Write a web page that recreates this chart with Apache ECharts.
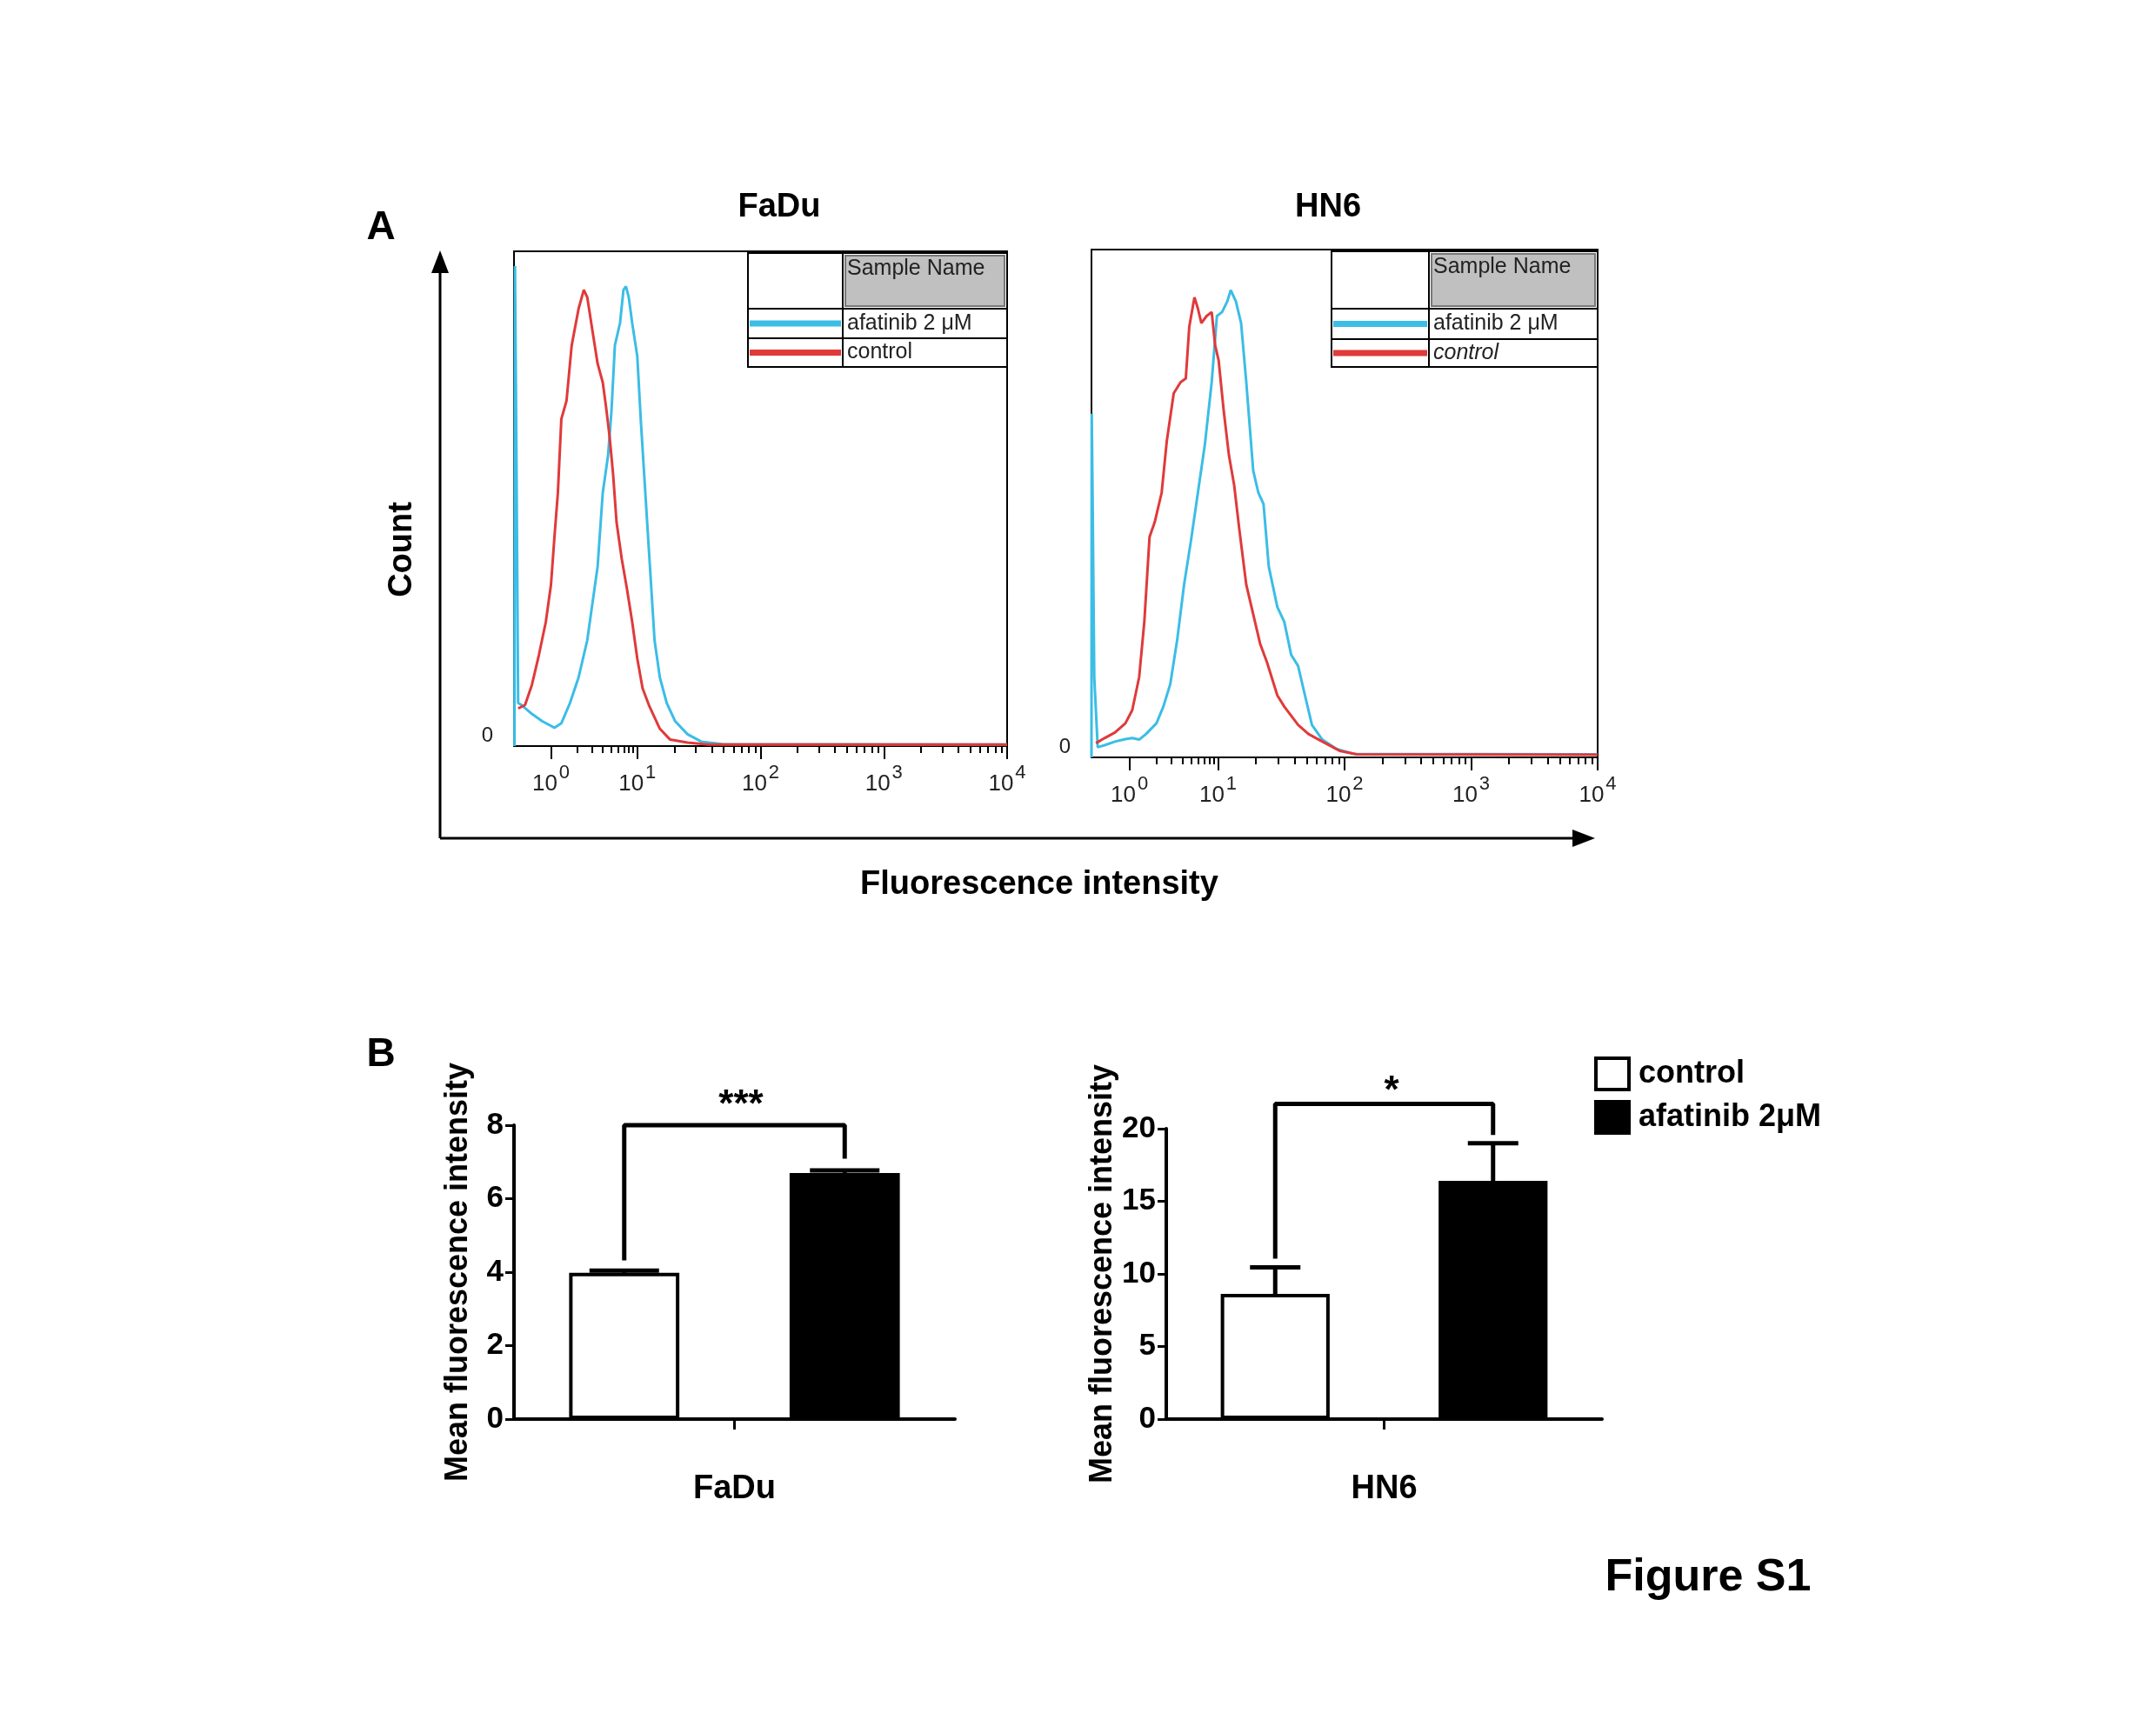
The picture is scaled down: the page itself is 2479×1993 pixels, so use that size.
<!DOCTYPE html>
<html>
<head>
<meta charset="utf-8">
<script src="https://cdn.jsdelivr.net/npm/echarts@6/dist/echarts.min.js"></script>
<style>
  html, body { margin: 0; padding: 0; background: #fff; }
  #main { width: 2479px; height: 1993px; }
</style>
</head>
<body>
<div id="main"></div>
<script type="text/javascript">
// histogram curves: [display channel (0-1000), % of max count]
var faduAfatinib = [[1,0],[2,97],[5,58],[8.4,8.7],[15.4,8.3],[36.4,6.5],[57.5,5],[82,3.7],[96,4.6],[113.5,8.7],[131,13.9],[148.6,21.4],[159,28.8],[169.6,36.3],[180,51.2],[190.6,58.6],[197.6,67.6],[204.6,81],[215,85.5],[222,92.2],[227,92.9],[232.7,90.7],[239.7,85.5],[250,78.8],[257,66.1],[264,54.9],[271,43.7],[278,32.6],[285,21.4],[295.7,13.9],[309.7,8.7],[327,5],[351.8,2.4],[379.8,0.9],[421.9,0.4],[1000,0.3]];
var faduControl = [[8.4,7.6],[22.4,8.3],[36.4,12.4],[50.5,18.4],[64.5,25.1],[75,32.6],[82,42.2],[89,51.2],[96,66.1],[106.5,69.8],[117,81],[131,88.4],[141.6,92.2],[148.6,90.7],[159,84],[169.6,77.3],[180,73.5],[187,68.3],[194,62.4],[201,54.9],[208,45.2],[218.6,37.8],[229,31.8],[239.7,25.1],[250,17.7],[260.7,11.7],[274.7,8],[295.7,3.5],[316.7,1.3],[351.8,0.7],[393.8,0.3],[1000,0.3]];
var hn6Afatinib = [[0,0],[0.5,67.7],[2,53.6],[5.5,15.8],[12.3,2.0],[25.9,2.4],[46.4,3.1],[66.9,3.6],[80.5,3.8],[94.2,3.5],[107.8,4.6],[128.3,6.7],[142,10],[155.6,14.4],[169.3,23.1],[182.9,34],[196.6,42.7],[210.2,52.1],[223.9,61.5],[237.5,73.9],[247.8,86.9],[258,87.7],[268.3,89.8],[275.1,92],[285.3,89.8],[295.6,85.5],[305.8,73.9],[319.5,56.5],[329.7,52.1],[339.9,49.9],[350.2,37.6],[367.2,29.6],[380.9,26.7],[394.5,20.2],[408.2,18],[421.8,12.2],[435.5,6.4],[456,3.5],[483.3,1.7],[517.4,0.7],[1000,0.6]];
var hn6Control = [[8.9,2.8],[25.9,3.8],[46.4,4.9],[66.9,6.7],[80.5,9.3],[94.2,15.8],[104.4,26.7],[114.7,43.4],[124.9,46.3],[138.6,52.1],[148.8,62.3],[162.5,71.7],[176.1,73.9],[186.3,74.6],[193.2,84.8],[203.4,90.6],[210.2,88.4],[217.1,85.5],[227.3,86.9],[237.5,87.7],[244.4,81.1],[251.2,78.2],[261.4,68.1],[271.7,59.4],[281.9,53.6],[292.2,44.8],[305.8,34],[319.5,28.2],[333.1,22.4],[346.8,18.7],[367.2,12.2],[380.9,10],[408.2,6.4],[428.7,4.6],[449.1,3.5],[490.1,1.3],[524.2,0.6],[1000,0.5]];
// channel positions of the decade ticks 10^0..10^4 and of the minor ticks
var decadeTicks = [75, 250, 500, 750, 1000];
var decadeExp = [0, 1, 2, 3, 4];
var minorTicks = [128,158,180,197,211,223,233,242,325,369,401,425,445,461,476,489,575,619,651,675,695,711,726,739,825,869,901,925,945,961,976,989];

// panel B: means and SEM
var groups = ['control', 'afatinib 2μM'];
var faduMean = [3.98, 6.7];
var faduErr = [0.06, 0.07];
var hn6Mean = [8.62, 16.4];
var hn6Err = [1.83, 2.59];
var faduBracket = [[0, 4.32], [0, 8], [1, 8], [1, 7.09]];
var hn6Bracket = [[0, 11.05], [0, 21.7], [1, 21.7], [1, 19.57]];

var BLUE = '#3bbde6', RED = '#e03a3a';
var FONT = 'Liberation Sans';

var chart = echarts.init(document.getElementById('main'));

function histX(gi) {
  return [{
    type: 'value', gridIndex: gi, min: 0, max: 1000, position: 'bottom',
    axisLine: { show: true, lineStyle: { color: '#000', width: 2 } },
    axisTick: { show: true, length: 15, customValues: decadeTicks, lineStyle: { color: '#000', width: 2 } },
    axisLabel: {
      customValues: decadeTicks, margin: 20,
      formatter: function (v) { return '{b|10}{s|' + decadeExp[decadeTicks.indexOf(v)] + '}'; },
      rich: { b: { fontSize: 26, fontFamily: FONT, color: '#222' },
              s: { fontSize: 22, fontFamily: FONT, color: '#222', padding: [0, 0, 26, 2] } }
    },
    splitLine: { show: false }
  }, {
    type: 'value', gridIndex: gi, min: 0, max: 1000, position: 'bottom',
    axisLine: { show: false },
    axisTick: { show: true, length: 8, customValues: minorTicks, lineStyle: { color: '#000', width: 2 } },
    axisLabel: { show: false }, splitLine: { show: false }
  }];
}
function histY(gi) {
  return {
    type: 'value', gridIndex: gi, min: 0, max: 100,
    axisLine: { show: false }, axisTick: { show: false }, splitLine: { show: false },
    axisLabel: { customValues: [0], margin: 24, fontSize: 24, fontFamily: FONT, color: '#222', verticalAlign: 'bottom' }
  };
}
function barX(gi, label) {
  return [{
    type: 'category', gridIndex: gi, data: groups, position: 'bottom',
    axisLine: { show: false }, axisTick: { show: false }, axisLabel: { show: false }
  }, {
    type: 'value', gridIndex: gi, min: 0, max: 1, position: 'bottom',
    name: label, nameLocation: 'middle', nameGap: 62,
    nameTextStyle: { fontSize: 38, fontWeight: 'bold', fontFamily: FONT, color: '#000' },
    axisLine: { show: true, lineStyle: { color: '#000', width: 4 } },
    axisTick: { show: true, customValues: [0.5], length: 12, lineStyle: { color: '#000', width: 3 } },
    axisLabel: { show: false }, splitLine: { show: false }
  }];
}
function barY(gi, max, interval) {
  return {
    type: 'value', gridIndex: gi, min: 0, max: max, interval: interval,
    name: 'Mean fluorescence intensity', nameLocation: 'middle', nameRotate: 90, nameGap: 46,
    nameTextStyle: { fontSize: 36, fontWeight: 'bold', fontFamily: FONT, color: '#000' },
    axisLine: { show: true, lineStyle: { color: '#000', width: 4 } },
    axisTick: { show: true, length: 10, lineStyle: { color: '#000', width: 3 } },
    axisLabel: { fontSize: 35, fontWeight: 'bold', fontFamily: FONT, color: '#000', margin: 12 },
    splitLine: { show: false }
  };
}
function errSeries(name, xi, yi, mean, err, half) {
  return {
    type: 'custom', name: name, xAxisIndex: xi, yAxisIndex: yi, z: 1,
    data: mean.map(function (m, i) { return [i, m, err[i]]; }),
    renderItem: function (params, api) {
      var top = api.coord([api.value(0), api.value(1) + api.value(2)]);
      var base = api.coord([api.value(0), api.value(1)]);
      var st = { stroke: '#000', lineWidth: 5 };
      return { type: 'group', children: [
        { type: 'line', shape: { x1: base[0], y1: base[1], x2: top[0], y2: top[1] }, style: st },
        { type: 'line', shape: { x1: top[0] - half, y1: top[1], x2: top[0] + half, y2: top[1] }, style: st }
      ] };
    }
  };
}
function barSeries(xi, yi, mean) {
  return [{
    type: 'bar', name: groups[0], xAxisIndex: xi, yAxisIndex: yi, barWidth: '50%', barGap: '-100%', z: 2,
    itemStyle: { color: '#fff', borderColor: '#000', borderWidth: 4 },
    data: [mean[0], '-']
  }, {
    type: 'bar', name: groups[1], xAxisIndex: xi, yAxisIndex: yi, barWidth: '50%', barGap: '-100%', z: 2,
    itemStyle: { color: '#000', borderColor: '#000', borderWidth: 4 },
    data: ['-', mean[1]]
  }];
}
function bracket(xi, yi, data) {
  return { type: 'line', name: 'sig', xAxisIndex: xi, yAxisIndex: yi, data: data, symbol: 'none',
    clip: false, lineStyle: { color: '#000', width: 5 }, z: 3 };
}
function hist(name, xi, yi, data, color) {
  return { type: 'line', name: name, xAxisIndex: xi, yAxisIndex: yi, data: data, symbol: 'none',
    lineStyle: { color: color, width: 3 }, z: 2 };
}
function legendTable(x0, xc, x1, y0, y1, y2, y3, italic) {
  var ts = { fontSize: 25, fontFamily: FONT, fill: '#222' };
  return [
    { type: 'rect', shape: { x: x0, y: y0, width: x1 - x0, height: y3 - y0 }, style: { fill: '#fff', stroke: '#000', lineWidth: 2 }, z: 10 },
    { type: 'rect', shape: { x: xc + 3, y: y0 + 3, width: x1 - xc - 6, height: y1 - y0 - 6 }, style: { fill: '#c0c0c0', stroke: '#777', lineWidth: 2 }, z: 11 },
    { type: 'line', shape: { x1: xc, y1: y0, x2: xc, y2: y3 }, style: { stroke: '#000', lineWidth: 2 }, z: 11 },
    { type: 'line', shape: { x1: x0, y1: y1, x2: x1, y2: y1 }, style: { stroke: '#000', lineWidth: 2 }, z: 11 },
    { type: 'line', shape: { x1: x0, y1: y2, x2: x1, y2: y2 }, style: { stroke: '#000', lineWidth: 2 }, z: 11 },
    { type: 'line', shape: { x1: x0 + 2, y1: (y1 + y2) / 2, x2: xc - 2, y2: (y1 + y2) / 2 }, style: { stroke: BLUE, lineWidth: 7 }, z: 11 },
    { type: 'line', shape: { x1: x0 + 2, y1: (y2 + y3) / 2, x2: xc - 2, y2: (y2 + y3) / 2 }, style: { stroke: RED, lineWidth: 7 }, z: 11 },
    { type: 'text', x: xc + 5, y: y0 + 6, style: Object.assign({ text: 'Sample Name', fill: '#333' }, ts), z: 12 },
    { type: 'text', x: xc + 5, y: (y1 + y2) / 2, style: Object.assign({ text: 'afatinib 2 μM', verticalAlign: 'middle' }, ts), z: 12 },
    { type: 'text', x: xc + 5, y: (y2 + y3) / 2, style: Object.assign({ text: 'control', verticalAlign: 'middle', fontStyle: italic ? 'italic' : 'normal' }, ts), z: 12 }
  ];
}
function bold(text, x, y, size, align) {
  return { type: 'text', x: x, y: y, z: 12, style: { text: text, fontSize: size, fontWeight: 'bold', fontFamily: FONT,
    fill: '#000', align: align || 'center', verticalAlign: 'middle' } };
}

var gridBox = { show: true, borderColor: '#000', borderWidth: 2, backgroundColor: '#fff' };
var option = {
  backgroundColor: '#fff',
  animation: false,
  grid: [
    Object.assign({ left: 591, top: 289, width: 567, height: 569 }, gridBox),
    Object.assign({ left: 1255, top: 287, width: 582, height: 584 }, gridBox),
    { left: 591, top: 1294, width: 507, height: 338 },
    { left: 1341, top: 1298, width: 501, height: 334 }
  ],
  xAxis: [].concat(histX(0), histX(1), barX(2, 'FaDu'), barX(3, 'HN6')),
  yAxis: [histY(0), histY(1), barY(2, 8, 2), barY(3, 20, 5)],
  legend: {
    data: [
      { name: groups[0], itemStyle: { color: '#fff', borderColor: '#000', borderWidth: 4 } },
      { name: groups[1], itemStyle: { color: '#000', borderColor: '#000', borderWidth: 4 } }
    ],
    orient: 'vertical', left: 1828, top: 1210, itemWidth: 38, itemHeight: 36, itemGap: 10,
    icon: 'rect', selectedMode: false,
    textStyle: { fontSize: 36, fontWeight: 'bold', fontFamily: FONT, color: '#000', padding: [0, 0, 0, 6] }
  },
  series: [
    hist('FaDu afatinib', 0, 0, faduAfatinib, BLUE),
    hist('FaDu control', 0, 0, faduControl, RED),
    hist('HN6 afatinib', 2, 1, hn6Afatinib, BLUE),
    hist('HN6 control', 2, 1, hn6Control, RED)
  ].concat(
    barSeries(4, 2, faduMean), [errSeries('err', 4, 2, faduMean, faduErr, 40), bracket(4, 2, faduBracket)],
    barSeries(6, 3, hn6Mean), [errSeries('err', 6, 3, hn6Mean, hn6Err, 29), bracket(6, 3, hn6Bracket)]
  ),
  graphic: [].concat(
    legendTable(860, 969, 1158, 291, 355, 389, 422, false),
    legendTable(1531, 1643, 1837, 289, 355, 390, 422, true),
    [
      { type: 'line', shape: { x1: 506, y1: 964, x2: 506, y2: 300 }, style: { stroke: '#000', lineWidth: 3 } },
      { type: 'polygon', shape: { points: [[506, 288], [496, 314], [516, 314]] }, style: { fill: '#000' } },
      { type: 'line', shape: { x1: 506, y1: 964, x2: 1820, y2: 964 }, style: { stroke: '#000', lineWidth: 3 } },
      { type: 'polygon', shape: { points: [[1834, 964], [1808, 954], [1808, 974]] }, style: { fill: '#000' } },
      bold('A', 438, 262, 46),
      bold('B', 438, 1213, 46),
      bold('FaDu', 896, 239, 38),
      bold('HN6', 1527, 239, 38),
      { type: 'text', x: 463, y: 632, rotation: Math.PI / 2, z: 12, style: { text: 'Count', fontSize: 38, fontWeight: 'bold',
        fontFamily: FONT, fill: '#000', align: 'center', verticalAlign: 'middle' } },
      bold('Fluorescence intensity', 1195, 1018, 38),
      bold('***', 852, 1272, 44),
      bold('*', 1600, 1256, 44),
      bold('Figure S1', 1964, 1815, 52)
    ]
  )
};
chart.setOption(option);
</script>
</body>
</html>
